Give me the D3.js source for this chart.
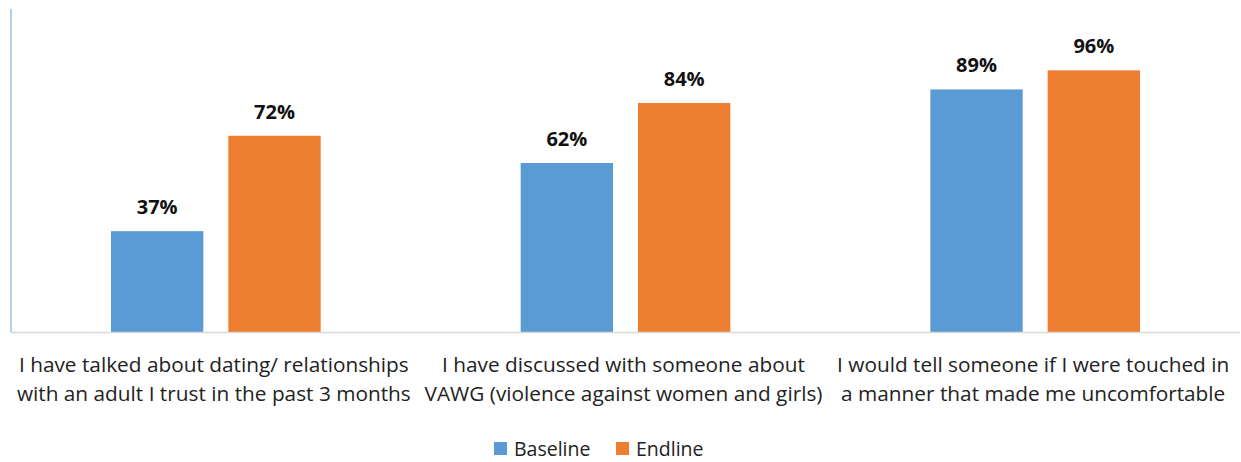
<!DOCTYPE html>
<html>
<head>
<meta charset="utf-8">
<script src="https://cdn.jsdelivr.net/npm/d3@7/dist/d3.min.js"></script>
<style>
  html, body { margin: 0; padding: 0; background: #fff; }
  svg { display: block; }
  text { font-family: "Open Sans", Lato, sans-serif; fill: #222; }
</style>
</head>
<body>
<svg id="chart" width="1241" height="462"></svg>
<script>
// Survey statements (each drawn on two lines)
const categories = [
  ["I have talked about dating/ relationships", "with an adult I trust in the past 3 months"],
  ["I have discussed with someone about", "VAWG (violence against women and girls)"],
  ["I would tell someone if I were touched in", "a manner that made me uncomfortable"]
];
const seriesNames = ["Baseline", "Endline"];
const baseline = [0.37, 0.62, 0.89];
const endline = [0.72, 0.84, 0.96];
const colors = ["#5b9bd5", "#ed7d31"];

const svg = d3.select("#chart");
const plot = { left: 11, right: 1240, top: 9, bottom: 332 };

const x0 = d3.scaleBand().domain(d3.range(categories.length))
  .range([plot.left, plot.right]).paddingInner(0).paddingOuter(0);
const x1 = d3.scaleBand().domain(seriesNames)
  .range([100, x0.bandwidth() - 100]).paddingInner(0.213).paddingOuter(0);
const y = d3.scaleLinear().domain([0, 1.185]).range([plot.bottom, plot.top]);

const rows = categories.map((c, i) => ({ idx: i, values: [baseline[i], endline[i]] }));

// Bars
const groups = svg.selectAll("g.grp").data(rows).join("g")
  .attr("class", "grp")
  .attr("transform", d => `translate(${x0(d.idx)},0)`);

groups.selectAll("rect").data(d => d.values.map((v, k) => ({ v, k })))
  .join("rect")
  .attr("x", d => x1(seriesNames[d.k]))
  .attr("width", x1.bandwidth())
  .attr("y", d => y(d.v))
  .attr("height", d => y(0) - y(d.v))
  .attr("fill", d => colors[d.k]);

// Value labels
groups.selectAll("text.val").data(d => d.values.map((v, k) => ({ v, k })))
  .join("text")
  .attr("class", "val")
  .attr("x", d => x1(seriesNames[d.k]) + x1.bandwidth() / 2)
  .attr("y", d => y(d.v) - 17)
  .attr("text-anchor", "middle")
  .style("font-size", "20px")
  .style("font-weight", "700")
  .style("fill", "#111")
  .text(d => d3.format(".0%")(d.v));

// Axes lines
svg.append("line")
  .attr("x1", plot.left).attr("x2", plot.right)
  .attr("y1", plot.bottom + 0.5).attr("y2", plot.bottom + 0.5)
  .attr("stroke", "#d9d9d9").attr("stroke-width", 1.5);
svg.append("line")
  .attr("x1", plot.left).attr("x2", plot.left)
  .attr("y1", plot.top).attr("y2", plot.bottom)
  .attr("stroke", "#b4cfee").attr("stroke-width", 2);

// Category labels
const xAxis = d3.axisBottom(x0).tickSize(0).tickFormat("");
const ax = svg.append("g").attr("transform", `translate(0,${plot.bottom})`).call(xAxis);
ax.select(".domain").remove();
ax.selectAll(".tick").each(function(i) {
  const t = d3.select(this).append("text")
    .attr("text-anchor", "middle")
    .style("font-size", "20.8px");
  categories[i].forEach((line, j) => {
    t.append("tspan").attr("x", -2).attr("y", 40 + j * 28.5).text(line);
  });
});

// Legend
const legend = svg.append("g").attr("transform", "translate(494,442)");
const items = legend.selectAll("g").data(seriesNames).join("g")
  .attr("transform", (d, i) => `translate(${i * 122},0)`);
items.append("rect").attr("width", 13).attr("height", 13)
  .attr("fill", (d, i) => colors[i]);
items.append("text").attr("x", 20).attr("y", 14)
  .style("font-size", "19.5px").text(d => d);
</script>
</body>
</html>
